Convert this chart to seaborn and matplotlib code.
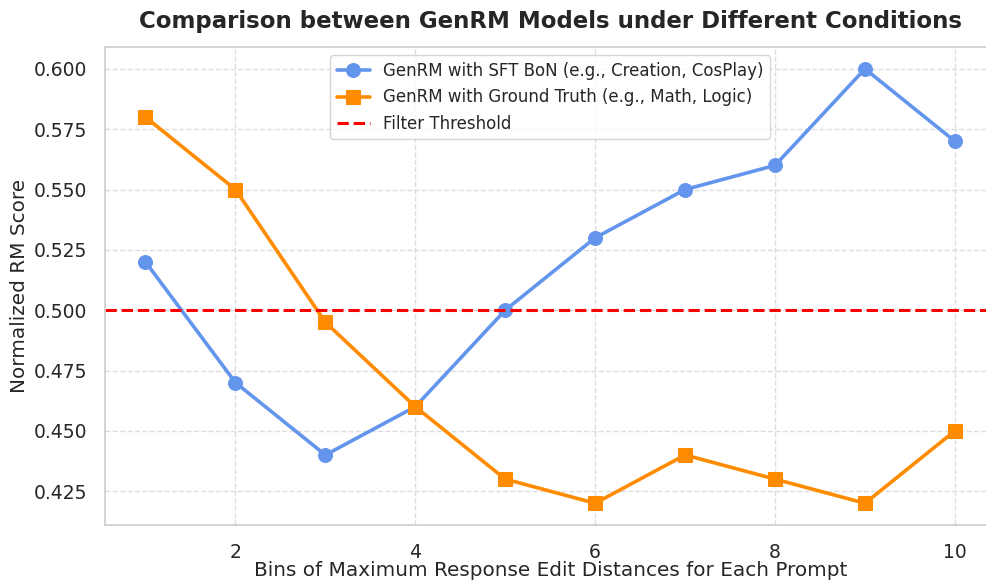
import matplotlib
matplotlib.use("Agg")
import matplotlib.pyplot as plt
import seaborn as sns
import pandas as pd

bins = [1, 2, 3, 4, 5, 6, 7, 8, 9, 10]
sft_bon = [0.52, 0.47, 0.44, 0.46, 0.50, 0.53, 0.55, 0.56, 0.60, 0.57]
ground_truth = [0.58, 0.55, 0.495, 0.46, 0.43, 0.42, 0.44, 0.43, 0.42, 0.45]
threshold = 0.5
labels = ["GenRM with SFT BoN (e.g., Creation, CosPlay)",
          "GenRM with Ground Truth (e.g., Math, Logic)",
          "Filter Threshold"]

sns.set_theme(style="whitegrid", context="notebook")
plt.rcParams['font.family'] = ['DejaVu Sans']

fig = plt.figure(figsize=(9.86, 5.82), dpi=100)
ax = fig.add_axes([0.1065, 0.098, 0.903, 0.821])

sns.lineplot(x=bins, y=sft_bon, ax=ax, color="#6495ED", marker="o", markersize=10,
             markeredgecolor="#6495ED", linewidth=2.6, label=labels[0])
sns.lineplot(x=bins, y=ground_truth, ax=ax, color="#FF8C00", marker="s", markersize=10,
             markeredgecolor="#FF8C00", linewidth=2.6, label=labels[1])
ax.axhline(threshold, color="red", linestyle="--", linewidth=2.2, label=labels[2])

ax.grid(True, linestyle="--", color="#dddddd", linewidth=1.0)
for s in ax.spines.values():
    s.set_color("#cccccc")
    s.set_linewidth(1.2)

ax.tick_params(labelsize=13.5, colors="#262626")
ax.tick_params(axis="x", pad=7)
ax.tick_params(axis="y", pad=7)
ax.set_xlabel("Bins of Maximum Response Edit Distances for Each Prompt", fontsize=14.4, color="#262626", labelpad=-1)
ax.set_ylabel("Normalized RM Score", fontsize=14.4, color="#262626", labelpad=3)
ax.set_title("Comparison between GenRM Models under Different Conditions",
             fontsize=16.5, fontweight="bold", color="#262626", pad=14)
ax.yaxis.set_major_formatter(matplotlib.ticker.FormatStrFormatter("%.3f"))
ax.set_xticks([2, 4, 6, 8, 10])

leg = ax.legend(loc="upper center", fontsize=12, frameon=True, bbox_to_anchor=(0.5, 1.0))
leg.get_frame().set_edgecolor("#cccccc")

fig.savefig("out.png", dpi=100)
